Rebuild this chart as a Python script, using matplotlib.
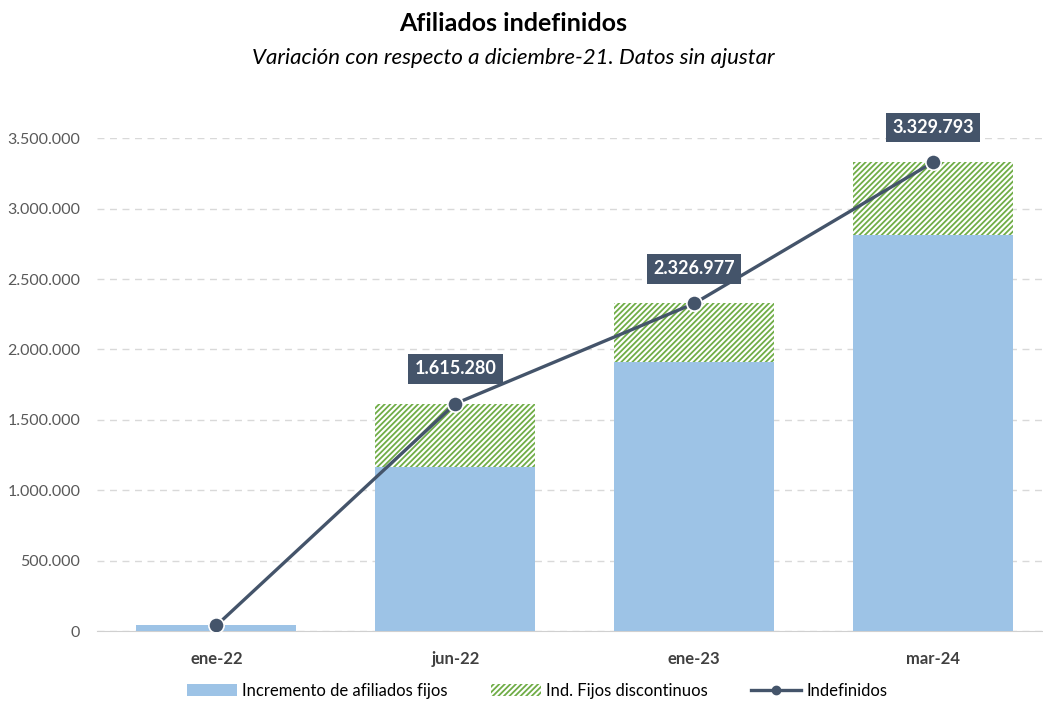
import matplotlib
matplotlib.use("Agg")
from matplotlib import pyplot as plt
from matplotlib.patches import Patch
from matplotlib.lines import Line2D
import numpy as np

plt.rcParams['font.family'] = ['Lato', 'DejaVu Sans']
plt.rcParams['hatch.linewidth'] = 1.3

periodos = ['ene-22', 'jun-22', 'ene-23', 'mar-24']
fijos = [40000, 1164000, 1910000, 2811000]
indefinidos = [40000, 1615280, 2326977, 3329793]
discontinuos = [max(t - f, 0) for t, f in zip(indefinidos, fijos)]

azul = '#9DC3E6'
verde = '#70AD47'
oscuro = '#44546A'

fig = plt.figure(figsize=(10.43, 7.02), dpi=100)
ax = fig.add_axes([0.093, 0.101, 0.907, 0.702])

x = np.arange(len(periodos))
ax.bar(x, fijos, width=0.67, color=azul, zorder=2)
ax.bar(x, discontinuos, width=0.67, bottom=fijos, facecolor='white',
       edgecolor=verde, linewidth=0, hatch='//////', zorder=2)
ax.plot(x, indefinidos, color=oscuro, lw=2.4, marker='o', ms=11,
        mfc=oscuro, mec='white', mew=1.2, zorder=4)

# etiquetas de total, menos la primera
for xi, v in zip(x[1:], indefinidos[1:]):
    txt = f'{v:,}'.replace(',', '.')
    ax.annotate(txt, (xi, v), xytext=(0, 25), textcoords='offset points',
                ha='center', va='center', color='white', fontsize=13,
                fontweight='bold', zorder=5, annotation_clip=False,
                bbox=dict(boxstyle='square,pad=0.35', fc=oscuro, ec='none'))

ax.set_xlim(-0.5, 3.46)
ax.set_ylim(0, 3500000)
ax.set_yticks(np.arange(0, 3500001, 500000))
ax.set_yticklabels([f'{int(v):,}'.replace(',', '.') for v in ax.get_yticks()],
                   color='#595959', fontsize=11.5)
ax.set_xticks(x)
ax.set_xticklabels(periodos, color='#404040', fontsize=12, fontweight='bold')
ax.tick_params(length=0, axis='both')
ax.tick_params(axis='x', pad=14)
ax.tick_params(axis='y', pad=12)
ax.grid(axis='y', color='#D9D9D9', linestyle=(0, (5, 4)), lw=1, zorder=0)
for s in ['top', 'right', 'left']:
    ax.spines[s].set_visible(False)
ax.spines['bottom'].set_color('#D0D0D0')
ax.spines['bottom'].set_zorder(1)

fig.text(0.492, 0.966, 'Afiliados indefinidos', ha='center', va='center',
         fontsize=18, fontweight='bold')
fig.text(0.492, 0.918, 'Variación con respecto a diciembre-21. Datos sin ajustar',
         ha='center', va='center', fontsize=16, style='italic')

handles = [Patch(facecolor=azul, label='Incremento de afiliados fijos'),
           Patch(facecolor='white', edgecolor=verde, linewidth=0, hatch='//////',
                 label='Ind. Fijos discontinuos'),
           Line2D([0], [0], color=oscuro, lw=2.4, marker='o', ms=6,
                  label='Indefinidos')]
fig.legend(handles=handles, loc='center', bbox_to_anchor=(0.515, 0.016),
           ncol=3, frameon=False, fontsize=12, columnspacing=2.6,
           handlelength=3, handletextpad=0.3)

fig.savefig('out.png', dpi=100)
